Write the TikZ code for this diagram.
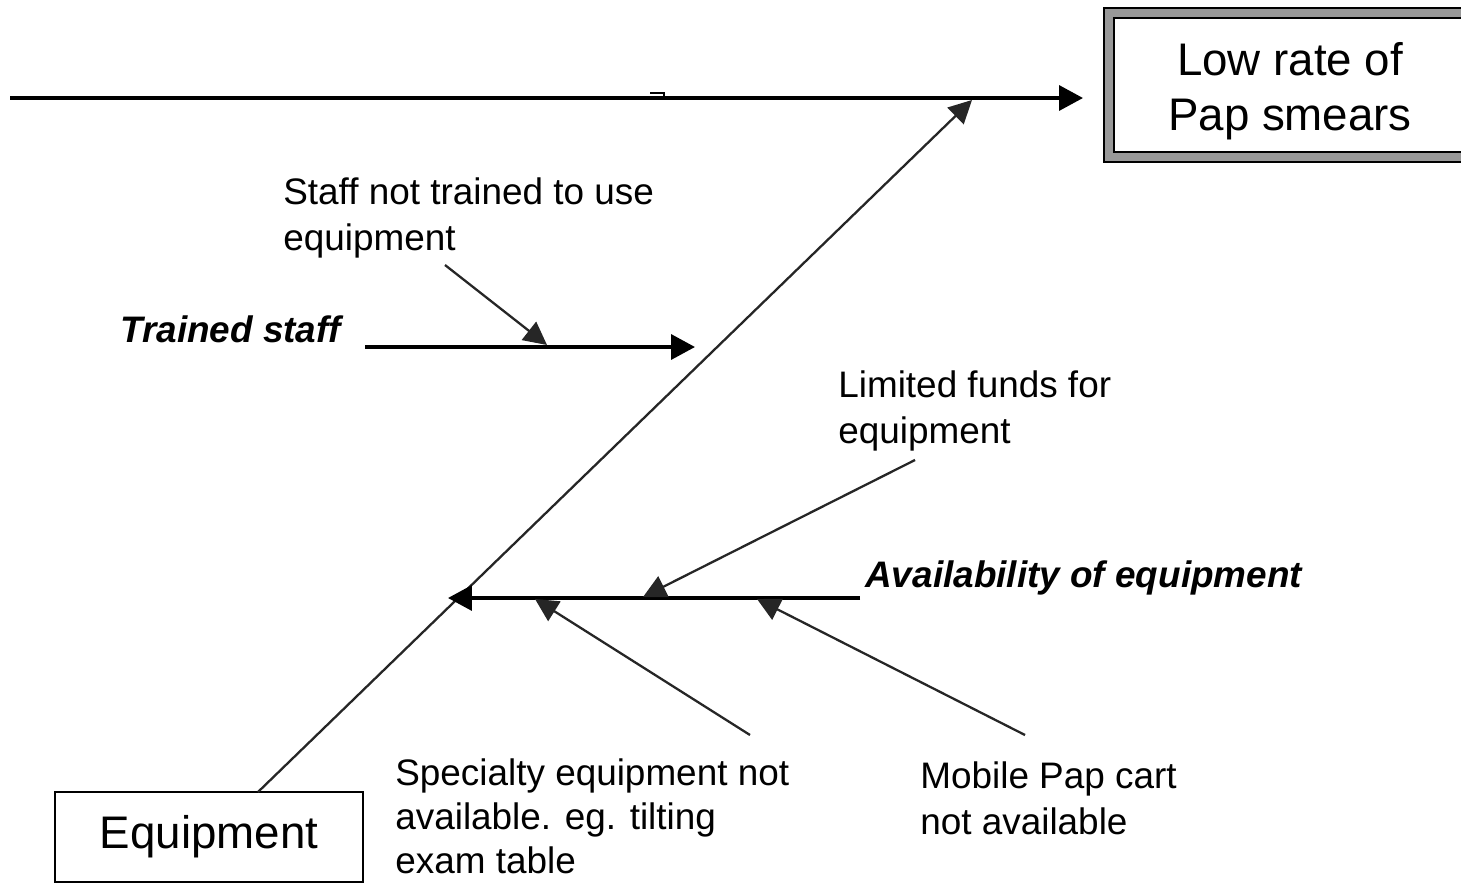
\documentclass[tikz,border=0pt]{standalone}
\usepackage{fontspec}
\setmainfont{Liberation Sans}
\usetikzlibrary{arrows.meta}
\begin{document}
\begin{tikzpicture}[
        x=0.02cm, y=-0.02cm,
        spine/.style={-{Triangle[length=0.48cm, width=0.5cm]}, line width=2pt},
        rib/.style={-{Triangle[length=0.46cm, width=0.46cm]}, line width=1.3pt, black!85},
        cause/.style={anchor=base west, align=left, inner sep=0pt, font=\fontsize{21}{26}\selectfont},
        category/.style={cause, font=\fontsize{21}{26}\selectfont\bfseries\itshape},
        effect/.style={rectangle, draw, line width=0.05cm, double=black!40, double distance=0.15cm, minimum width=7.24cm, minimum height=2.89cm, align=center, font=\fontsize{26}{31}\selectfont},
        group/.style={rectangle, draw, line width=1.4pt, minimum width=6.16cm, minimum height=1.8cm, font=\fontsize{26}{31}\selectfont}
    ]
    \useasboundingbox (0,0) rectangle (1461,883);

    % Effect and category boxes
    \node[effect] (lowrate) at (1290,85) {\rule{0pt}{26pt}Low rate of\\Pap smears};
    \node[group] (equip) at (209,837) {Equipment};

    % Ends of the bones
    \coordinate (tail) at (10,98);
    \coordinate (head) at (1083,98);
    \coordinate (equipfoot) at (258,792);
    \coordinate (equiphead) at (972,100);
    \coordinate (trainedtail) at (365,347);
    \coordinate (trainedhead) at (695,347);
    \coordinate (availtail) at (860,598);
    \coordinate (availhead) at (448,598);

    % Main spine and equipment bone
    \draw[spine] (tail) -- (head);
    \draw[line width=0.8pt] (650,93) -- (664,93) -- (664,97);
    \draw[rib] (equipfoot) -- (equiphead);

    % Trained staff
    \node[category] (trained) at (120,342) {Trained staff};
    \node[cause] (staffnt) at (283,250) {Staff not trained to use\\equipment};
    \coordinate (staffntfoot) at (445,265);
    \coordinate (staffnthead) at (547,345);
    \draw[spine] (trainedtail) -- (trainedhead);
    \draw[rib] (staffntfoot) -- (staffnthead);

    % Availability of equipment
    \node[category] (avail) at (865,587) {Availability of equipment};
    \node[cause] (funds) at (838,443) {Limited funds for\\equipment};
    \node[cause, font=\fontsize{21}{25}\selectfont] (special) at (395,873) {Specialty equipment not\\available. eg. tilting\\exam table};
    \node[cause] (cart) at (920,834) {Mobile Pap cart\\not available};
    \coordinate (fundsfoot) at (915,460);
    \coordinate (fundshead) at (643,597);
    \coordinate (specialfoot) at (750,735);
    \coordinate (specialhead) at (535,599);
    \coordinate (cartfoot) at (1025,735);
    \coordinate (carthead) at (757,599);
    \draw[spine] (availtail) -- (availhead);
    \draw[rib] (fundsfoot) -- (fundshead);
    \draw[rib] (specialfoot) -- (specialhead);
    \draw[rib] (cartfoot) -- (carthead);

\end{tikzpicture}
\end{document}
